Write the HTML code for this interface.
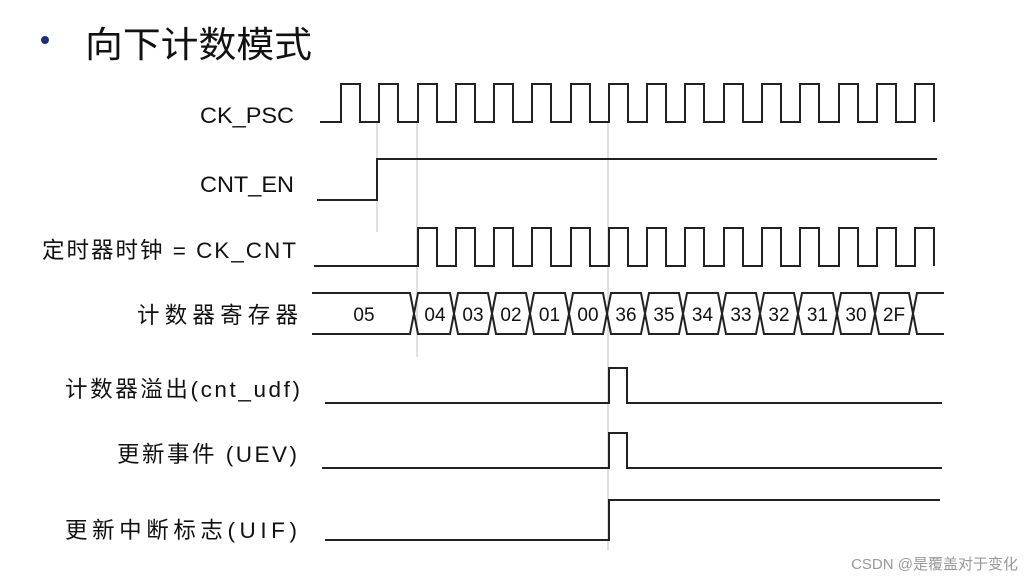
<!DOCTYPE html>
<html><head><meta charset="utf-8"><style>
body{margin:0;background:#fff;width:1034px;height:583px;overflow:hidden}
svg{display:block}
text{font-family:"Liberation Sans","Noto Sans CJK SC",sans-serif;fill:#111}
</style></head><body>
<svg width="1034" height="583" viewBox="0 0 1034 583" xmlns="http://www.w3.org/2000/svg">
<circle cx="45" cy="40" r="4" fill="#1a2f7a"/>
<text x="85" y="57" font-size="36" textLength="227" lengthAdjust="spacingAndGlyphs">向下计数模式</text>
<g font-size="22.5">
<text x="200" y="123" textLength="94" lengthAdjust="spacingAndGlyphs">CK_PSC</text>
<text x="200" y="192" textLength="94" lengthAdjust="spacingAndGlyphs">CNT_EN</text>
<text x="42" y="258" textLength="254" lengthAdjust="spacing">定时器时钟 = CK_CNT</text>
<text x="137" y="323" textLength="161" lengthAdjust="spacing">计数器寄存器</text>
<text x="65" y="397" textLength="235" lengthAdjust="spacing">计数器溢出(cnt_udf)</text>
<text x="117" y="462" textLength="180" lengthAdjust="spacing">更新事件 (UEV)</text>
<text x="65" y="538" textLength="232" lengthAdjust="spacing">更新中断标志(UIF)</text>
</g>
<g stroke="#ccc" stroke-width="1.2">
<line x1="377" y1="122" x2="377" y2="232"/>
<line x1="417" y1="122" x2="417" y2="357"/>
<line x1="608" y1="122" x2="608" y2="550"/>
</g>
<g fill="none" stroke="#222" stroke-width="2">
<path d="M320 122H341V84H360V122H379V84H398V122H418V84H437V122H456V84H475V122H494V84H513V122H532V84H551V122H571V84H590V122H609V84H628V122H647V84H666V122H685V84H704V122H724V84H743V122H762V84H781V122H800V84H819V122H839V84H858V122H877V84H896V122H915V84H934V122"/>
<path d="M317 200H377V159H937"/>
<path d="M314 266H418V228H437V266H456V228H475V266H494V228H513V266H532V228H551V266H571V228H590V266H609V228H628V266H647V228H666V266H685V228H704V266H724V228H743V266H762V228H781V266H800V228H819V266H839V228H858V266H877V228H896V266H915V228H934V266"/>
<path d="M312 293H410L414 313.5L410 334H312"/>
<path d="M944 293H917L913 313.5L917 334H944"/>
<path d="M418 293H450L454 313.5L450 334H418L414 313.5Z M458 293H488L492 313.5L488 334H458L454 313.5Z M496 293H526L530 313.5L526 334H496L492 313.5Z M534 293H565L569 313.5L565 334H534L530 313.5Z M573 293H603L607 313.5L603 334H573L569 313.5Z M611 293H641L645 313.5L641 334H611L607 313.5Z M649 293H679L683 313.5L679 334H649L645 313.5Z M687 293H718L722 313.5L718 334H687L683 313.5Z M726 293H756L760 313.5L756 334H726L722 313.5Z M764 293H794L798 313.5L794 334H764L760 313.5Z M802 293H833L837 313.5L833 334H802L798 313.5Z M841 293H871L875 313.5L871 334H841L837 313.5Z M879 293H909L913 313.5L909 334H879L875 313.5Z"/>
<path d="M325 403H609V368H627V403H942"/>
<path d="M322 468H609V433H627V468H942"/>
<path d="M325 540H609V500H940"/>
</g>
<g font-size="19" text-anchor="middle">
<text x="364" y="321">05</text>
<text x="435" y="321">04</text><text x="473" y="321">03</text><text x="511" y="321">02</text><text x="549.5" y="321">01</text><text x="588" y="321">00</text><text x="626" y="321">36</text><text x="664" y="321">35</text><text x="702.5" y="321">34</text><text x="741" y="321">33</text><text x="779" y="321">32</text><text x="817.5" y="321">31</text><text x="856" y="321">30</text><text x="894" y="321">2F</text>
</g>
<text x="1018" y="569" font-size="15" text-anchor="end" style="fill:#999">CSDN @是覆盖对于变化</text>
</svg>
</body></html>
